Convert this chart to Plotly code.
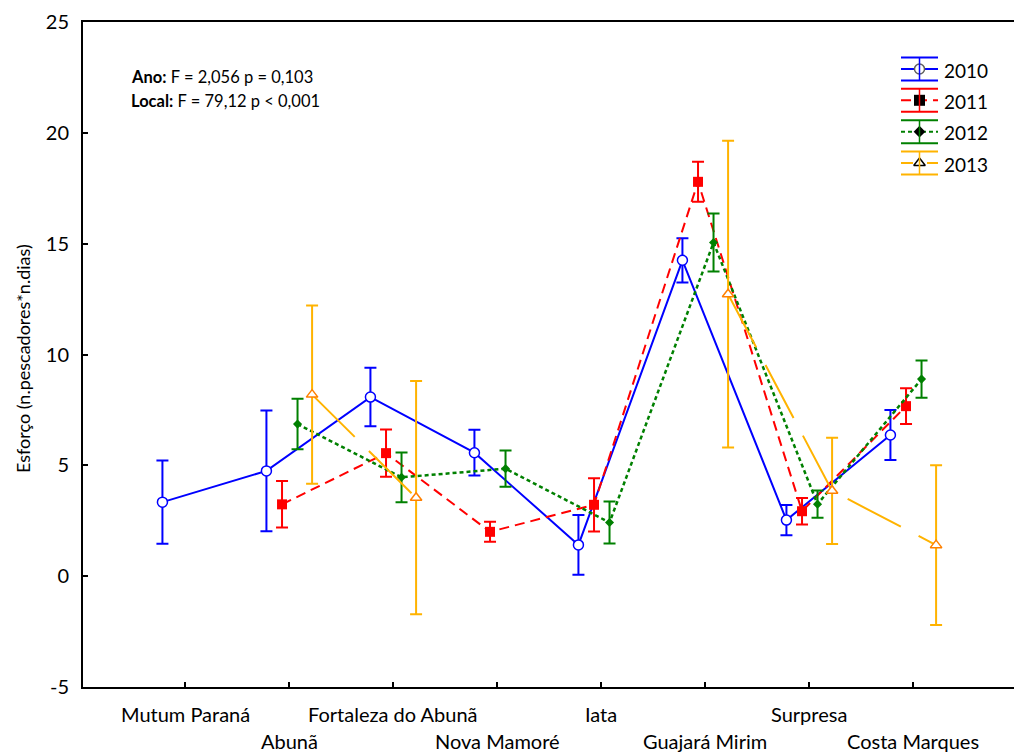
import plotly.graph_objects as go

# ---- data -------------------------------------------------------------
locais = ["Mutum Paraná", "Abunã", "Fortaleza do Abunã", "Nova Mamoré",
          "Iata", "Guajará Mirim", "Surpresa", "Costa Marques"]

anos = ["2010", "2011", "2012", "2013"]

media_2010 = [3.34, 4.75, 8.08, 5.57, 1.41, 14.25, 2.53, 6.37]
erro_2010 = [1.88, 2.72, 1.32, 1.03, 1.35, 1.00, 0.68, 1.13]

media_2011 = [None, 3.24, 5.55, 2.00, 3.22, 17.79, 2.93, 7.67]
erro_2011 = [None, 1.05, 1.07, 0.45, 1.20, 0.90, 0.60, 0.81]

media_2012 = [None, 6.86, 4.46, 4.85, 2.42, 15.05, 3.25, 8.89]
erro_2012 = [None, 1.14, 1.12, 0.82, 0.95, 1.31, 0.62, 0.84]

media_2013 = [None, 8.19, 3.54, None, None, 12.72, 3.85, 1.40]
erro_2013 = [None, 4.02, 5.26, None, None, 6.92, 2.40, 3.60]

y_ticks = [-5, 0, 5, 10, 15, 20, 25]

# ---- styling ----------------------------------------------------------
FONT = "Lato"
W, H = 1014, 753
L, R, T, B = 83, 0, 22, 66
PW, PH = W - L - R, H - T - B

# horizontal offset of each year within a category
offsets = [-0.217, -0.067, 0.082, 0.222]

styles = [
    dict(color="#0000FF", dash="solid", width=2,
         marker=dict(symbol="circle", size=10, color="white",
                     line=dict(color="#0000FF", width=1.5))),
    dict(color="#FF0000", dash="10px,6px", width=2,
         marker=dict(symbol="square", size=10, color="#FF0000",
                     line=dict(color="#FF0000", width=0))),
    dict(color="#008000", dash="4px,3px", width=2.5,
         marker=dict(symbol="diamond", size=7, color="#008000",
                     line=dict(color="#008000", width=0))),
    dict(color="#FFB300", dash="60px,20px", width=2,
         marker=dict(symbol="triangle-up", size=10, color="white",
                     line=dict(color="#FF8000", width=1.5))),
]

medias = [media_2010, media_2011, media_2012, media_2013]
erros = [erro_2010, erro_2011, erro_2012, erro_2013]

fig = go.Figure()

for k, (ano, m, e, st, off) in enumerate(zip(anos, medias, erros, styles, offsets)):
    xs = [i + off for i in range(len(locais))]
    fig.add_trace(go.Scatter(
        x=xs, y=m, name=ano, mode="lines+markers",
        connectgaps=False,
        line=dict(color=st["color"], dash=st["dash"], width=st["width"]),
        marker=st["marker"],
        error_y=dict(type="data", array=[v if v is not None else 0 for v in e],
                     symmetric=True, color=st["color"], thickness=2, width=6),
        showlegend=False,
    ))

# ---- hand-drawn legend (error-bar style keys) --------------------------
leg_x0, leg_xm, leg_x1 = 901, 919.5, 938
leg_y = [69, 100.3, 131.7, 163]
leg_half = 11.5
leg_markers = [
    dict(symbol="circle", size=10, color="white", line=dict(color="#606060", width=1.5)),
    dict(symbol="square", size=11, color="black", line=dict(width=0)),
    dict(symbol="diamond", size=9, color="black", line=dict(width=0)),
    dict(symbol="triangle-up", size=10, color="white", line=dict(color="black", width=1.5)),
]
shapes = []
annotations = []
for k, ano in enumerate(anos):
    st = styles[k]
    yc = leg_y[k]
    for yy in (yc - leg_half, yc + leg_half):
        shapes.append(dict(type="line", xref="x2", yref="y2", x0=leg_x0, x1=leg_x1,
                           y0=yy, y1=yy, line=dict(color=st["color"], width=2)))
    shapes.append(dict(type="line", xref="x2", yref="y2", x0=leg_xm, x1=leg_xm,
                       y0=yc - leg_half, y1=yc + leg_half,
                       line=dict(color=st["color"], width=1.5)))
    fig.add_trace(go.Scatter(
        x=[leg_x0, leg_x1], y=[yc, yc], mode="lines", xaxis="x2", yaxis="y2",
        line=dict(color=st["color"], dash=st["dash"] if k != 3 else "12px,14px",
                  width=st["width"] if k != 2 else 2),
        showlegend=False, hoverinfo="skip"))
    fig.add_trace(go.Scatter(
        x=[leg_xm], y=[yc], mode="markers", xaxis="x2", yaxis="y2",
        marker=leg_markers[k], showlegend=False, hoverinfo="skip"))
    annotations.append(dict(text=ano, xref="x2", yref="y2", x=942, y=yc + 1,
                            xanchor="left", yanchor="middle", showarrow=False,
                            font=dict(family=FONT, size=19, color="black")))

# ---- category labels (staggered on two rows) ---------------------------
for i, nome in enumerate(locais):
    annotations.append(dict(text=nome, xref="x", yref="paper", x=i, y=0,
                            yshift=-27 if i % 2 == 0 else -54,
                            xanchor="center", yanchor="middle", showarrow=False,
                            font=dict(family=FONT, size=20, color="black")))

# ---- statistics box text ----------------------------------------------
def px_x(p):
    return (p - L) / PW


def px_y(p):
    return (H - B - p) / PH


annotations.append(dict(text="<b>Ano:</b> F = 2,056 p = 0,103", xref="paper", yref="paper",
                        x=px_x(129), y=px_y(77), xanchor="left", yanchor="middle",
                        showarrow=False, font=dict(family=FONT, size=16.5, color="black")))
annotations.append(dict(text="<b>Local:</b> F = 79,12 p < 0,001", xref="paper", yref="paper",
                        x=px_x(129), y=px_y(101), xanchor="left", yanchor="middle",
                        showarrow=False, font=dict(family=FONT, size=16.5, color="black")))

# y axis title
annotations.append(dict(text="Esforço (n.pescadores*n.dias)", xref="paper", yref="paper",
                        x=px_x(23), y=px_y(359), xanchor="center", yanchor="middle",
                        textangle=-90, showarrow=False,
                        font=dict(family=FONT, size=18, color="black")))

fig.update_layout(
    width=W, height=H,
    margin=dict(l=L, r=R, t=T, b=B, pad=0),
    paper_bgcolor="white", plot_bgcolor="white",
    font=dict(family=FONT, size=19, color="black"),
    xaxis=dict(range=[(L - 185) / 104, (W - 185) / 104],
               tickvals=list(range(len(locais))), showticklabels=False,
               ticks="inside", ticklen=5, tickwidth=1.5, tickcolor="black",
               showline=True, linecolor="black", linewidth=2, mirror=True,
               showgrid=False, zeroline=False, fixedrange=True),
    yaxis=dict(range=[-5, 25], tickvals=y_ticks,
               ticktext=[str(v) for v in y_ticks],
               ticks="inside", ticklen=5, tickwidth=1.5, tickcolor="black",
               ticklabelstandoff=8,
               tickfont=dict(family=FONT, size=20, color="black"),
               showline=True, linecolor="black", linewidth=2,
               showgrid=False, zeroline=False, fixedrange=True),
    xaxis2=dict(overlaying="x", range=[L, W], visible=False, fixedrange=True),
    yaxis2=dict(overlaying="y", range=[H - B, T], visible=False, fixedrange=True),
    shapes=shapes,
    annotations=annotations,
    showlegend=False,
)

fig.write_html("out.html")
